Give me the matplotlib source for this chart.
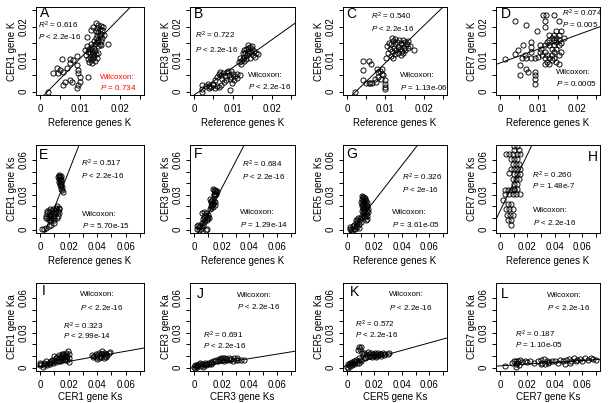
import matplotlib
matplotlib.use('Agg')
import matplotlib.pyplot as plt

plt.rcParams['font.family'] = ['Liberation Sans', 'DejaVu Sans']
plt.rcParams['mathtext.fontset'] = 'custom'
plt.rcParams['mathtext.rm'] = 'Liberation Sans'
plt.rcParams['mathtext.it'] = 'Liberation Sans:italic'

# ---------------- data ----------------
A_x = [0.0140,0.0146,0.0152,0.0157,0.0143,0.0149,0.0155,0.0140,0.0146,0.0152,0.0143,0.0149,0.0155,0.0140,0.0146,0.0152,0.0143,0.0149,0.0138,0.0145,0.0153,0.0135,0.0133,0.0128,0.0160,0.0171,0.0118,
       0.0118,0.0122,0.0127,0.0131,0.0120,0.0125,0.0133,0.0138,0.0116,0.0124,0.0129,0.0135,0.0140,0.0119,0.0127,0.0132,0.0137,0.0122,0.0130,0.0142,0.0145,0.0113,0.0135,0.0128,
       0.0054,0.0075,0.0093,0.0042,0.0050,0.0058,0.0067,0.0033,0.0046,0.0075,0.0083,0.0092,0.0096,0.0096,0.0100,0.0100,0.0096,0.0093,0.0075,0.0063,0.0058,0.0079,0.0019,0.0121]
A_y = [0.0210,0.0205,0.0202,0.0198,0.0195,0.0192,0.0188,0.0185,0.0182,0.0178,0.0174,0.0170,0.0166,0.0165,0.0160,0.0156,0.0152,0.0148,0.0145,0.0140,0.0143,0.0155,0.0200,0.0190,0.0175,0.0146,0.0169,
       0.0140,0.0132,0.0138,0.0128,0.0122,0.0118,0.0120,0.0125,0.0112,0.0108,0.0112,0.0110,0.0115,0.0100,0.0098,0.0102,0.0095,0.0090,0.0088,0.0105,0.0120,0.0128,0.0135,0.0145,
       0.0101,0.0101,0.0111,0.0072,0.0067,0.0062,0.0072,0.0056,0.0056,0.0087,0.0097,0.0082,0.0067,0.0056,0.0046,0.0031,0.0021,0.0010,0.0036,0.0031,0.0021,0.0031,0.0000,0.0046]

B_x = [0.0125,0.0130,0.0135,0.0140,0.0145,0.0150,0.0155,0.0160,0.0148,0.0142,0.0137,0.0130,0.0125,0.0120,0.0115,0.0128,0.0135,0.0145,0.0152,0.0158,0.0140,0.0132,0.0122,0.0118,0.0165,0.0150,0.0138,
       0.0060,0.0065,0.0070,0.0075,0.0080,0.0085,0.0090,0.0095,0.0100,0.0105,0.0110,0.0072,0.0082,0.0092,0.0102,0.0112,0.0118,0.0088,0.0078,0.0098,0.0055,0.0068,0.0095,
       0.0020,0.0020,0.0022,0.0035,0.0040,0.0045,0.0050,0.0055,0.0060,0.0065,0.0048,0.0038,0.0070,0.0092,0.0030]
B_y = [0.0120,0.0128,0.0132,0.0135,0.0138,0.0130,0.0125,0.0120,0.0122,0.0118,0.0112,0.0108,0.0100,0.0095,0.0090,0.0095,0.0100,0.0105,0.0112,0.0108,0.0125,0.0118,0.0085,0.0105,0.0115,0.0140,0.0142,
       0.0045,0.0055,0.0050,0.0058,0.0048,0.0060,0.0052,0.0045,0.0055,0.0048,0.0042,0.0038,0.0035,0.0038,0.0035,0.0055,0.0050,0.0065,0.0030,0.0028,0.0035,0.0062,0.0065,
       0.0020,0.0008,0.0000,0.0025,0.0018,0.0015,0.0020,0.0012,0.0018,0.0015,0.0025,0.0010,0.0022,0.0005,0.0018]

C_x = [0.0105,0.0110,0.0115,0.0120,0.0125,0.0130,0.0135,0.0140,0.0145,0.0150,0.0155,0.0160,0.0112,0.0118,0.0122,0.0128,0.0132,0.0138,0.0142,0.0148,0.0152,0.0158,0.0108,0.0115,0.0120,0.0126,0.0134,0.0140,0.0146,0.0102,0.0125,0.0145,0.0175,0.0165,0.0118,
       0.0042,0.0058,0.0063,0.0042,0.0042,0.0050,0.0058,0.0066,0.0075,0.0080,0.0085,0.0090,0.0082,0.0088,0.0095,0.0098,0.0100,0.0098,0.0100,0.0092,0.0078,0.0021,0.0060,0.0072]
C_y = [0.0140,0.0150,0.0145,0.0155,0.0148,0.0152,0.0158,0.0150,0.0145,0.0152,0.0148,0.0155,0.0130,0.0125,0.0135,0.0128,0.0138,0.0132,0.0125,0.0135,0.0128,0.0135,0.0118,0.0110,0.0105,0.0115,0.0120,0.0112,0.0118,0.0105,0.0162,0.0160,0.0128,0.0140,0.0165,
       0.0095,0.0095,0.0084,0.0068,0.0037,0.0026,0.0026,0.0026,0.0030,0.0060,0.0065,0.0055,0.0045,0.0040,0.0050,0.0035,0.0025,0.0015,0.0008,0.0070,0.0070,0.0000,0.0028,0.0040]

D_x = [0.0040,0.0068,0.0111,0.0120,0.0141,0.0154,0.0116,0.0116,0.0096,
       0.0014,0.0040,0.0048,0.0061,0.0082,0.0082,0.0082,0.0065,0.0057,0.0069,0.0082,0.0090,0.0098,0.0052,0.0052,0.0069,0.0073,0.0090,0.0092,0.0092,0.0090,
       0.0103,0.0108,0.0103,0.0110,0.0116,0.0116,0.0116,0.0122,0.0128,0.0128,0.0128,0.0135,0.0135,0.0141,0.0141,0.0141,0.0141,0.0147,0.0147,0.0147,0.0154,0.0154,0.0154,0.0160,0.0166,0.0122,0.0128,0.0135,0.0122,0.0116,0.0141,0.0147,0.0154,0.0160,0.0154,0.0128,0.0135,0.0147,0.0160]
D_y = [0.0216,0.0206,0.0234,0.0234,0.0234,0.0218,0.0216,0.0200,0.0187,
       0.0099,0.0117,0.0127,0.0143,0.0153,0.0138,0.0122,0.0112,0.0102,0.0102,0.0102,0.0102,0.0107,0.0081,0.0050,0.0070,0.0060,0.0060,0.0050,0.0040,0.0024,
       0.0122,0.0132,0.0143,0.0112,0.0102,0.0122,0.0143,0.0153,0.0143,0.0159,0.0174,0.0165,0.0132,0.0174,0.0159,0.0143,0.0122,0.0165,0.0153,0.0132,0.0174,0.0159,0.0143,0.0150,0.0166,0.0112,0.0102,0.0096,0.0092,0.0086,0.0102,0.0092,0.0112,0.0122,0.0086,0.0086,0.0112,0.0185,0.0185]

E_x = [0.0130,0.0135,0.0140,0.0145,0.0132,0.0140,0.0148,0.0135,0.0142,0.0150,0.0138,0.0145,0.0152,0.0148,0.0155,0.0158,0.0128,0.0150,
       0.0040,0.0045,0.0050,0.0055,0.0060,0.0065,0.0070,0.0075,0.0080,0.0085,0.0090,0.0095,0.0100,0.0105,0.0110,0.0115,0.0120,0.0125,0.0130,0.0125,0.0135,0.0118,0.0060,0.0080,0.0100,0.0070,0.0090,0.0110,0.0050,0.0130,
       0.0015,0.0030,0.0045,0.0060,0.0080,0.0100]
E_y = [0.0470,0.0460,0.0450,0.0465,0.0440,0.0430,0.0420,0.0410,0.0400,0.0395,0.0385,0.0375,0.0365,0.0350,0.0340,0.0325,0.0450,0.0440,
       0.0100,0.0120,0.0140,0.0100,0.0120,0.0160,0.0140,0.0100,0.0120,0.0160,0.0140,0.0100,0.0120,0.0160,0.0140,0.0180,0.0200,0.0160,0.0140,0.0120,0.0180,0.0100,0.0080,0.0080,0.0080,0.0180,0.0180,0.0190,0.0160,0.0190,
       0.0010,0.0010,0.0015,0.0030,0.0040,0.0060]

F_x = [0.0140,0.0145,0.0150,0.0155,0.0160,0.0148,0.0142,0.0152,0.0158,0.0165,
       0.0115,0.0120,0.0125,0.0130,0.0135,0.0140,0.0145,0.0150,0.0120,0.0130,0.0125,0.0140,0.0155,0.0115,
       0.0060,0.0070,0.0080,0.0085,0.0090,0.0095,0.0100,0.0075,0.0065,0.0080,0.0095,0.0105,0.0110,0.0070,0.0055,
       0.0020,0.0025,0.0030,0.0040,0.0045,0.0050,0.0060,0.0065,0.0090,0.0095,0.0035]
F_y = [0.0350,0.0340,0.0330,0.0345,0.0320,0.0310,0.0300,0.0295,0.0305,0.0330,
       0.0260,0.0250,0.0240,0.0255,0.0230,0.0220,0.0245,0.0210,0.0200,0.0210,0.0190,0.0195,0.0235,0.0180,
       0.0140,0.0150,0.0130,0.0145,0.0120,0.0100,0.0110,0.0110,0.0090,0.0080,0.0085,0.0130,0.0100,0.0070,0.0060,
       0.0030,0.0010,0.0040,0.0020,0.0035,0.0010,0.0025,0.0040,0.0000,0.0010,0.0000]

G_x = [0.0110,0.0115,0.0120,0.0125,0.0130,0.0110,0.0118,0.0125,0.0132,0.0140,0.0105,0.0112,0.0120,0.0128,0.0136,0.0145,0.0108,0.0115,0.0122,0.0130,0.0140,0.0150,0.0112,0.0120,0.0128,0.0135,0.0145,0.0152,0.0118,0.0125,0.0132,0.0140,0.0150,0.0145,0.0138,0.0155,
       0.0020,0.0030,0.0040,0.0050,0.0060,0.0025,0.0045,0.0055,0.0065,0.0070,0.0075,0.0080,0.0085,0.0090,0.0095,0.0100,0.0065,0.0075,0.0085,0.0100]
G_y = [0.0290,0.0280,0.0285,0.0270,0.0275,0.0260,0.0250,0.0240,0.0255,0.0245,0.0235,0.0225,0.0215,0.0220,0.0210,0.0230,0.0200,0.0190,0.0180,0.0195,0.0185,0.0200,0.0165,0.0155,0.0160,0.0150,0.0165,0.0175,0.0130,0.0120,0.0110,0.0135,0.0120,0.0095,0.0085,0.0150,
       0.0005,0.0010,0.0000,0.0010,0.0005,0.0020,0.0030,0.0045,0.0035,0.0060,0.0080,0.0100,0.0075,0.0050,0.0090,0.0110,0.0080,0.0025,0.0015,0.0070]

H_x = [0.0104,0.0127,0.0104,0.0139,0.0046,0.0069,0.0092,0.0127,0.0150,0.0081,0.0104,0.0127,0.0092,0.0115,0.0139,0.0081,0.0104,0.0127,0.0143,0.0069,0.0104,0.0127,0.0143,0.0092,0.0115,0.0139,0.0104,0.0127,0.0104,0.0127,
       0.0035,0.0058,0.0081,0.0104,0.0040,0.0063,0.0092,0.0115,0.0150,0.0023,0.0058,0.0081,0.0046,0.0069,0.0092,0.0052,0.0075,0.0092,0.0058,0.0081,0.0081]
H_y = [0.0716,0.0716,0.0687,0.0687,0.0652,0.0652,0.0652,0.0652,0.0652,0.0609,0.0609,0.0609,0.0565,0.0565,0.0565,0.0522,0.0522,0.0522,0.0522,0.0484,0.0478,0.0478,0.0478,0.0435,0.0435,0.0435,0.0391,0.0391,0.0348,0.0348,
       0.0339,0.0339,0.0339,0.0339,0.0304,0.0304,0.0304,0.0304,0.0304,0.0255,0.0223,0.0223,0.0174,0.0174,0.0174,0.0130,0.0130,0.0130,0.0087,0.0087,0.0043]

I_x = [0.0000,0.0010,0.0020,0.0030,0.0000,0.0040,0.0050,0.0060,0.0070,0.0080,0.0090,0.0100,0.0100,0.0110,0.0115,0.0120,0.0125,0.0130,0.0140,0.0145,0.0150,0.0155,0.0160,0.0165,0.0170,0.0175,0.0180,0.0185,0.0190,0.0195,0.0200,0.0205,0.0130,0.0160,0.0180,0.0190,0.0085,0.0070,0.0040,0.0030,0.0200,0.0150,
       0.0365,0.0370,0.0380,0.0390,0.0395,0.0400,0.0410,0.0415,0.0420,0.0425,0.0430,0.0440,0.0445,0.0450,0.0455,0.0460,0.0470,0.0480,0.0490,0.0400,0.0435,0.0465]
I_y = [0.0020,0.0030,0.0010,0.0025,0.0040,0.0035,0.0020,0.0045,0.0030,0.0055,0.0040,0.0065,0.0100,0.0050,0.0080,0.0095,0.0070,0.0110,0.0085,0.0060,0.0100,0.0120,0.0075,0.0095,0.0110,0.0065,0.0130,0.0090,0.0105,0.0140,0.0080,0.0120,0.0060,0.0120,0.0100,0.0070,0.0070,0.0050,0.0060,0.0045,0.0050,0.0085,
       0.0110,0.0095,0.0105,0.0120,0.0090,0.0110,0.0130,0.0085,0.0105,0.0120,0.0095,0.0115,0.0080,0.0130,0.0100,0.0120,0.0110,0.0125,0.0135,0.0075,0.0140,0.0090]

J_x = [0.0000,0.0005,0.0010,0.0015,0.0020,0.0025,0.0030,0.0040,0.0050,0.0060,0.0070,0.0080,0.0090,0.0100,0.0110,0.0120,0.0130,0.0140,0.0150,0.0160,0.0170,0.0180,0.0190,0.0200,0.0210,0.0220,0.0230,0.0240,0.0250,0.0260,0.0270,0.0280,0.0290,0.0300,0.0310,0.0320,0.0340,0.0360,0.0065,0.0085,0.0045,0.0125,0.0195,0.0225]
J_y = [0.0010,0.0020,0.0000,0.0015,0.0025,0.0010,0.0020,0.0030,0.0015,0.0035,0.0025,0.0040,0.0030,0.0045,0.0035,0.0050,0.0040,0.0055,0.0060,0.0070,0.0055,0.0075,0.0065,0.0070,0.0080,0.0060,0.0075,0.0070,0.0080,0.0065,0.0075,0.0060,0.0080,0.0070,0.0085,0.0065,0.0070,0.0068,0.0010,0.0020,0.0045,0.0030,0.0085,0.0085]

K_x = [0.0000,0.0005,0.0010,0.0015,0.0020,0.0025,0.0030,0.0035,0.0040,0.0045,0.0050,0.0055,0.0060,0.0070,0.0075,0.0080,0.0085,0.0090,0.0095,0.0100,
       0.0080,0.0090,0.0095,0.0100,0.0110,
       0.0120,0.0125,0.0130,0.0140,0.0150,0.0155,0.0160,0.0170,0.0175,0.0180,0.0190,0.0200,0.0205,0.0210,0.0220,0.0225,0.0230,0.0240,0.0245,0.0250,0.0260,0.0270,0.0280,0.0300,0.0310,0.0135,0.0185,0.0215]
K_y = [0.0010,0.0030,0.0000,0.0020,0.0040,0.0015,0.0030,0.0050,0.0025,0.0040,0.0060,0.0035,0.0050,0.0070,0.0045,0.0060,0.0080,0.0040,0.0070,0.0055,
       0.0150,0.0175,0.0160,0.0180,0.0130,
       0.0110,0.0130,0.0095,0.0120,0.0105,0.0135,0.0115,0.0100,0.0125,0.0110,0.0120,0.0100,0.0130,0.0115,0.0105,0.0125,0.0110,0.0120,0.0100,0.0115,0.0125,0.0110,0.0120,0.0115,0.0125,0.0080,0.0090,0.0095]

L_x = [0.0040,0.0085,0.0100,0.0120,0.0120,0.0120,0.0125,0.0135,0.0140,0.0150,0.0160,0.0180,0.0200,0.0220,0.0250,0.0280,0.0300,0.0310,0.0320,0.0330,0.0340,0.0360,0.0380,0.0400,0.0420,0.0440,0.0460,0.0470,0.0480,0.0500,0.0510,0.0520,0.0540,0.0550,0.0560,0.0580,0.0600,0.0620,0.0640,0.0660,0.0680,0.0700,0.0300,0.0350]
L_y = [0.0015,0.0045,0.0055,0.0060,0.0030,0.0005,0.0045,0.0060,0.0020,0.0065,0.0050,0.0055,0.0050,0.0060,0.0045,0.0055,0.0065,0.0045,0.0075,0.0030,0.0060,0.0050,0.0055,0.0060,0.0045,0.0070,0.0055,0.0030,0.0065,0.0075,0.0045,0.0060,0.0080,0.0055,0.0065,0.0075,0.0060,0.0080,0.0065,0.0085,0.0075,0.0070,0.0035,0.0040]

panel_letters = ['A','B','C','D','E','F','G','H','I','J','K','L']
x_labels = ['Reference genes K']*8 + ['CER1 gene Ks','CER3 gene Ks','CER5 gene Ks','CER7 gene Ks']
y_labels = ['CER1 gene K','CER3 gene K','CER5 gene K','CER7 gene K',
            'CER1 gene Ks','CER3 gene Ks','CER5 gene Ks','CER7 gene Ks',
            'CER1 gene Ka','CER3 gene Ka','CER5 gene Ka','CER7 gene Ka']
r2_values = ['0.616','0.722','0.540','0.074','0.517','0.684','0.326','0.260','0.323','0.691','0.572','0.187']
reg_p = ['< 2.2e-16','< 2.2e-16','< 2.2e-16','= 0.005','< 2.2e-16','< 2.2e-16','< 2e-16','= 1.48e-7','< 2.99e-14','< 2.2e-16','< 2.2e-16','= 1.10e-05']
wil_p = ['= 0.734','< 2.2e-16','= 1.13e-06','= 0.0005','= 5.70e-15','= 1.29e-14','= 3.61e-05','< 2.2e-16','< 2.2e-16','< 2.2e-16','< 2.2e-16','< 2.2e-16']
slopes = [1.25,0.849,1.145,0.429,3.12,2.29,1.52,2.44,0.218,0.193,0.327,0.078]
intercepts = [-0.0023,-0.00106,-0.0026,0.0088,-0.0126,-0.0102,-0.0055,0.0158,0.0011,0.00014,0.0018,0.0016]

row1_ticks = [0,0.005,0.01,0.015,0.02,0.025]
row1_labels = ['0','','0.01','','0.02','']
big_ticks = [0,0.01,0.02,0.03,0.04,0.05,0.06,0.07]
big_xlabels = ['0','','0.02','','0.04','','0.06','']
big_ylabels = ['0','','','0.03','','','0.06','']

xs = [A_x,B_x,C_x,D_x,E_x,F_x,G_x,H_x,I_x,J_x,K_x,L_x]
ys = [A_y,B_y,C_y,D_y,E_y,F_y,G_y,H_y,I_y,J_y,K_y,L_y]

# ---------------- layout ----------------
W, H = 608, 403
col_left = [36, 190, 343, 496]
col_w = [108, 105, 104, 104]
row_top = [7, 145, 283]
row_h = 88
xlabel_pad = [2.5, 2.5, 1.2]

# text positions (axes fraction)
letter_pos = [(0.08,0.93),(0.08,0.925),(0.08,0.925),(0.095,0.915),
              (0.065,0.89),(0.08,0.90),(0.08,0.90),(0.93,0.86),
              (0.068,0.91),(0.094,0.87),(0.113,0.895),(0.087,0.88)]
reg_pos = [(0.015,0.795,0.67),(0.048,0.673,0.52),(0.274,0.894,0.76),(0.63,0.924,0.80),
           (0.415,0.789,0.654),(0.497,0.78,0.642),(0.565,0.635,0.50),(0.343,0.654,0.538),
           (0.253,0.506,0.40),(0.125,0.40,0.285),(0.113,0.525,0.41),(0.183,0.418,0.297)]
wil_pos = [(0.596,0.20,0.087),(0.556,0.217,0.095),(0.55,0.217,0.087),(0.58,0.255,0.133),
           (0.43,0.21,0.085),(0.48,0.23,0.096),(0.468,0.23,0.096),(0.36,0.25,0.115),
           (0.407,0.867,0.72),(0.444,0.86,0.734),(0.445,0.867,0.72),(0.487,0.855,0.72)]

fig = plt.figure(figsize=(W/100, H/100), dpi=100)
fs_tick = 7
fs_ann = 5.8

for i in range(12):
    r, c = divmod(i, 4)
    ax = fig.add_axes([col_left[c]/W, (H - row_top[r] - row_h)/H, col_w[c]/W, row_h/H])
    ax.plot(xs[i], ys[i], linestyle='none', marker='o', ms=3.7, mfc='none', mec='black', mew=0.65)
    ax.axline((0, intercepts[i]), slope=slopes[i], color='black', lw=0.7)
    if r == 0:
        ax.set_xlim(-0.001, 0.026); ax.set_ylim(-0.001, 0.026)
        ax.set_xticks(row1_ticks); ax.set_xticklabels(row1_labels)
        ax.set_yticks(row1_ticks); ax.set_yticklabels(row1_labels)
    else:
        ax.set_xlim(-0.0028, 0.0728); ax.set_ylim(-0.0028, 0.0728)
        ax.set_xticks(big_ticks); ax.set_xticklabels(big_xlabels)
        ax.set_yticks(big_ticks[:7]); ax.set_yticklabels(big_ylabels[:7])
    for lab in ax.get_yticklabels():
        lab.set_rotation(90); lab.set_va('center')
    ax.tick_params(axis='both', direction='out', length=3, width=0.7, labelsize=fs_tick, pad=2)
    ax.tick_params(axis='x', pad=3.5)
    for s in ax.spines.values():
        s.set_linewidth(0.7)
    ax.set_xlabel(x_labels[i], fontsize=7, labelpad=xlabel_pad[r])
    ax.set_ylabel(y_labels[i], fontsize=7, labelpad=1.5)
    lx, ly = letter_pos[i]
    ax.text(lx, ly, panel_letters[i], transform=ax.transAxes, fontsize=10, ha='center', va='center')
    rx, ry1, ry2 = reg_pos[i]
    ax.text(rx, ry1, r'$R^2$ = ' + r2_values[i], transform=ax.transAxes, fontsize=fs_ann, ha='left', va='center')
    ax.text(rx, ry2, r'$P$ ' + reg_p[i], transform=ax.transAxes, fontsize=fs_ann, ha='left', va='center')
    wx, wy1, wy2 = wil_pos[i]
    col = 'red' if i == 0 else 'black'
    ax.text(wx, wy1, 'Wilcoxon:', transform=ax.transAxes, fontsize=fs_ann, ha='left', va='center', color=col)
    ax.text(wx, wy2, r'$P$ ' + wil_p[i], transform=ax.transAxes, fontsize=fs_ann, ha='left', va='center', color=col)

fig.savefig('out.png', dpi=100)
